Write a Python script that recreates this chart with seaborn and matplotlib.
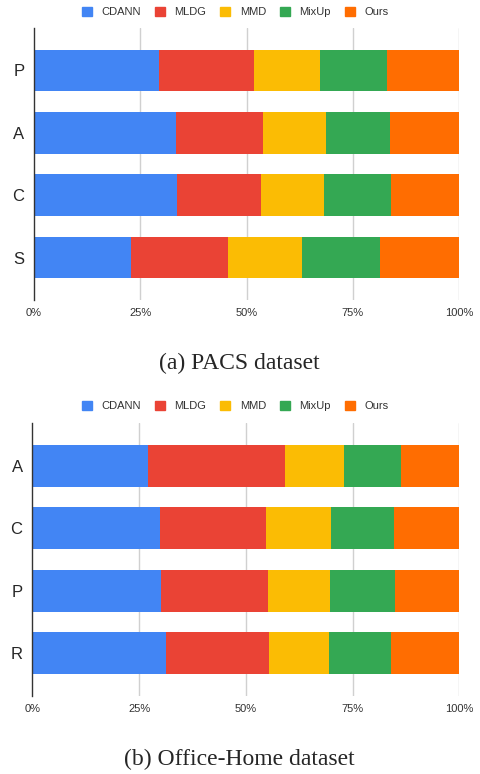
import numpy as np
import pandas as pd
import seaborn as sns
import matplotlib.pyplot as plt
from matplotlib.patches import Patch

# share of each method per domain (%)
methods = ['CDANN', 'MLDG', 'MMD', 'MixUp', 'Ours']
colores = ['#4285F4', '#EA4335', '#FBBC04', '#34A853', '#FF6D01']

pacs_dominios = ['P', 'A', 'C', 'S']
pacs_cdann = [29.4, 33.3, 33.6, 22.8]
pacs_mldg = [22.3, 20.6, 19.8, 22.8]
pacs_mmd = [15.5, 14.7, 14.8, 17.4]
pacs_mixup = [15.9, 15.1, 15.7, 18.4]
pacs_ours = [16.9, 16.3, 16.1, 18.6]

oh_dominios = ['A', 'C', 'P', 'R']
oh_cdann = [27.0, 29.8, 30.1, 31.2]
oh_mldg = [32.2, 24.9, 25.1, 24.2]
oh_mmd = [13.8, 15.3, 14.5, 14.1]
oh_mixup = [13.2, 14.6, 15.2, 14.5]
oh_ours = [13.8, 15.4, 15.1, 16.0]

xticks = [0, 25, 50, 75, 100]
xticklabels = ['0%', '25%', '50%', '75%', '100%']

sns.set_style('white')
plt.rcParams['font.family'] = ['Liberation Sans', 'DejaVu Sans']


def tabla(dominios, series):
    df = pd.DataFrame(dict(zip(methods, series)), index=dominios)
    df = df.div(df.sum(axis=1), axis=0) * 100
    return df.cumsum(axis=1)


def dibujar(ax, df):
    # stacked bars: draw cumulative totals from last to first
    for m, c in reversed(list(zip(methods, colores))):
        d = pd.DataFrame({'dominio': df.index, 'valor': df[m].values})
        sns.barplot(data=d, x='valor', y='dominio', orient='h', color=c,
                    saturation=1, width=0.67, linewidth=0, ax=ax)
    ax.set_xlim(0, 100)
    ax.set_ylim(3.68, -0.68)
    ax.set_xticks(xticks)
    ax.set_xticklabels(xticklabels, fontsize=8, color='#333333')
    ax.tick_params(axis='y', labelsize=12, pad=7, length=0)
    ax.tick_params(axis='x', pad=6, length=0)
    ax.set_xlabel('')
    ax.set_ylabel('')
    for v in xticks[1:]:
        ax.axvline(v, color='#d0d0d0', lw=1, zorder=0)
    for s in ['top', 'right', 'bottom']:
        ax.spines[s].set_visible(False)
    ax.spines['left'].set_color('#333333')
    ax.spines['left'].set_linewidth(1)
    ax.set_axisbelow(True)


fig = plt.figure(figsize=(4.81, 7.74), dpi=100)
ax1 = fig.add_axes([0.0707, 0.6124, 0.884, 0.3514])
ax2 = fig.add_axes([0.0672, 0.1008, 0.888, 0.3527])

dibujar(ax1, tabla(pacs_dominios, [pacs_cdann, pacs_mldg, pacs_mmd, pacs_mixup, pacs_ours]))
dibujar(ax2, tabla(oh_dominios, [oh_cdann, oh_mldg, oh_mmd, oh_mixup, oh_ours]))

handles = [Patch(color=c, label=m) for m, c in zip(methods, colores)]
for y in [0.9845, 0.4755]:
    fig.legend(handles=handles, loc='center', bbox_to_anchor=(0.489, y), ncol=5,
               frameon=False, fontsize=8, handlelength=0.9, handleheight=0.9,
               handletextpad=0.87, columnspacing=1.23, labelcolor='#333333')

fig.text(0.498, 1 - 363 / 774, '(a) PACS dataset', ha='center', va='center',
         fontsize=17, family='Liberation Serif')
fig.text(0.497, 1 - 759 / 774, '(b) Office-Home dataset', ha='center', va='center',
         fontsize=17, family='Liberation Serif')

fig.savefig('out.png', dpi=100)
